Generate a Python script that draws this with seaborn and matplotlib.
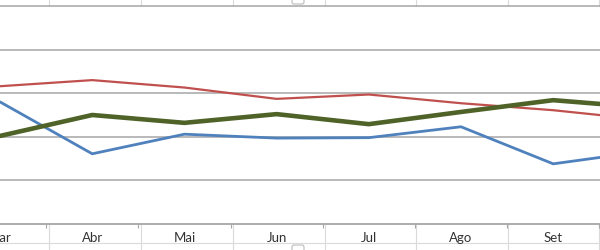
import matplotlib
matplotlib.use("Agg")
import matplotlib.pyplot as plt
import seaborn as sns
import pandas as pd
from matplotlib.patches import FancyBboxPatch

months = ["Mar", "Abr", "Mai", "Jun", "Jul", "Ago", "Set", "Out"]
red_vals = [3.16, 3.30, 3.13, 2.87, 2.97, 2.77, 2.61, 2.39]
green_vals = [2.02, 2.50, 2.32, 2.52, 2.29, 2.57, 2.84, 2.67]
blue_vals = [2.80, 1.61, 2.06, 1.97, 1.98, 2.23, 1.38, 1.67]
series_names = ["Série 1", "Série 2", "Série 3"]
colors = {"Série 1": "#4F81BD", "Série 2": "#C0504D", "Série 3": "#4F6228"}
widths = {"Série 1": 2.0, "Série 2": 1.6, "Série 3": 3.3}

sns.set_theme(style="white")
plt.rcParams["font.family"] = ["Lato", "DejaVu Sans"]

rows = []
for name, vals in zip(series_names, [blue_vals, red_vals, green_vals]):
    for i, (m, v) in enumerate(zip(months, vals)):
        rows.append({"idx": i, "mes": m, "valor": v, "serie": name})
df = pd.DataFrame(rows)

fig = plt.figure(figsize=(6, 2.5), dpi=100)

# spreadsheet background (cell borders)
bg = fig.add_axes([0, 0, 1, 1], zorder=0)
bg.set_xlim(0, 600)
bg.set_ylim(250, 0)
bg.axis("off")
for x in [49, 141, 233, 325, 416, 508, 599]:
    bg.plot([x, x], [0, 6], color="#DADADA", lw=0.8)
    bg.plot([x, x], [224, 250], color="#DADADA", lw=0.8)
bg.plot([0, 600], [243, 243], color="#DADADA", lw=0.8)
bg.add_patch(FancyBboxPatch((292, -3), 12, 7, boxstyle="round,pad=0,rounding_size=2",
                            fc="white", ec="#BBBBBB", lw=0.8))
bg.add_patch(FancyBboxPatch((292, 245), 12, 8, boxstyle="round,pad=0,rounding_size=2",
                            fc="white", ec="#BBBBBB", lw=0.8))

ax = fig.add_axes([0, 26 / 250, 1, 224 / 250], zorder=1)
ax.patch.set_alpha(0)
for name in ["Série 2", "Série 1", "Série 3"]:
    sub = df[df["serie"] == name]
    sns.lineplot(data=sub, x="idx", y="valor", color=colors[name],
                 lw=widths[name], ax=ax, legend=False, zorder=3)

sp = 92.2
ax.set_yticks([1, 2, 3, 4, 5])
ax.yaxis.grid(True, color="#A6A6A6", lw=1.1)
ax.xaxis.grid(False)
ax.set_xticks(range(len(months)))
ax.set_xticklabels(months, fontsize=9.5, color="#333333")
ax.set_xticks([i + 0.5 for i in range(-1, len(months))], minor=True)
ax.set_xlim(-0.0005, 600 / sp)
ax.set_ylim(0, 224 / 43.6)
ax.tick_params(axis="x", which="major", length=0, pad=6)
ax.tick_params(axis="x", which="minor", length=3, width=0.8, color="#A6A6A6", bottom=True)
ax.tick_params(axis="y", left=False, labelleft=False)
ax.set_xlabel("")
ax.set_ylabel("")
for s in ["top", "left", "right"]:
    ax.spines[s].set_visible(False)
ax.spines["bottom"].set_color("#A6A6A6")
ax.spines["bottom"].set_linewidth(1.3)

fig.savefig("out.png", dpi=100)
